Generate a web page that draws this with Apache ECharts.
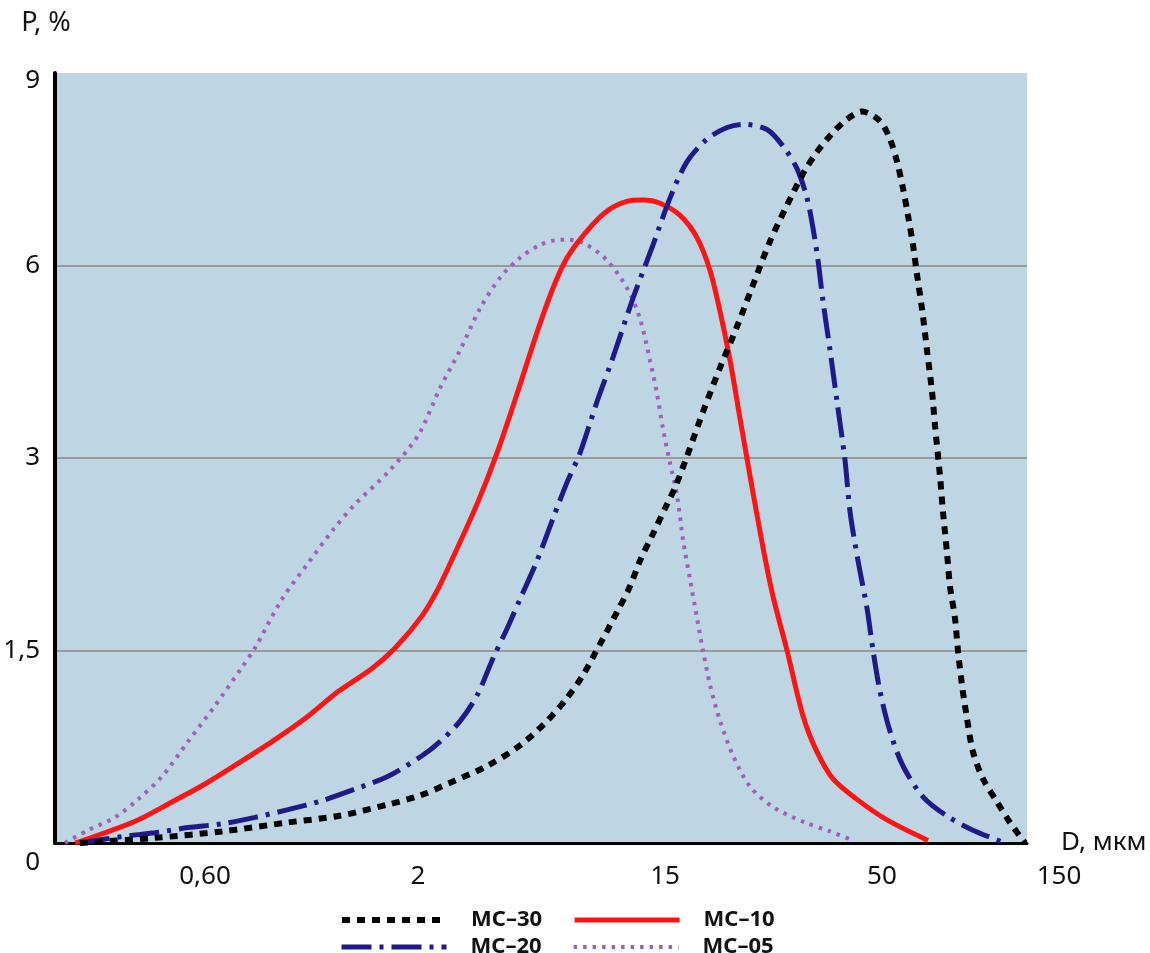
<!DOCTYPE html>
<html>
<head>
<meta charset="utf-8">
<script src="https://cdn.jsdelivr.net/npm/echarts@6/dist/echarts.min.js"></script>
<style>html,body{margin:0;padding:0;background:#fff}#c{width:1150px;height:953px}</style>
</head>
<body>
<div id="c"></div>
<script>
// Axis definitions (scale anchors)
const xTickValues = [0.6, 2, 15, 50, 150];
const xTickLabels = ['0,60', '2', '15', '50', '150'];
const xTickPositions = [15.43, 37.35, 62.76, 85.08, 100];
const yTickValues = [0, 1.5, 3, 6, 9];
const yTickLabels = ['0', '1,5', '3', '6', '9'];

const seriesNames = ['МС–30', 'МС–20', 'МС–10', 'МС–05'];

// МС–30 : D (мкм), P (%)
const d30 = [0.296,0.452,0.661,0.959,1.273,1.689,2.033,2.661,3.512,4.596,5.728,6.743,7.685,8.827,10.14,11.27,12.23,13.60,15.17,15.86,16.95,18.52,20.36,22.37,24.45,26.87,29.52,32.26,34.86,37.48,41.18,44.76,49.47,53.13,56.03,58.64,60.90,63.24,65.19,67.70,70.32,73.03,74.71,77.59,79.38,81.83,83.70,86.94,88.92,91.66,95.21,99.63,107.5,119.5,131.9,147.8];
const p30 = [0,0.04,0.09,0.16,0.21,0.30,0.37,0.48,0.60,0.76,0.95,1.13,1.31,1.55,1.80,2.00,2.20,2.41,2.64,2.77,3.03,3.72,4.41,5.05,5.70,6.38,6.94,7.43,7.77,8.02,8.28,8.40,8.25,7.97,7.62,7.20,6.78,6.32,5.86,5.33,4.68,4.04,3.51,2.86,2.58,2.26,2.00,1.75,1.50,1.23,0.97,0.71,0.50,0.32,0.16,0];

// МС–20
const d20 = [0.296,0.375,0.452,0.545,0.661,0.796,0.959,1.163,1.401,1.689,2.066,2.393,2.818,3.236,3.688,4.133,4.596,5.280,6.016,6.743,7.499,8.614,9.815,11.55,13.60,15.42,16.95,18.94,21.16,23.13,26.42,28.87,31.20,32.98,34.10,35.06,36.05,37.48,38.96,40.73,41.88,43.77,46.01,47.58,49.47,53.13,58.64,68.22,81.83,99.63,127.0];
const p20 = [0,0.05,0.08,0.12,0.15,0.20,0.26,0.33,0.42,0.52,0.68,0.79,0.95,1.15,1.44,1.67,1.90,2.20,2.53,2.81,3.08,3.88,4.57,5.49,6.32,7.05,7.62,7.97,8.15,8.20,8.12,7.86,7.51,7.05,6.58,6.08,5.44,4.68,3.88,2.98,2.58,2.20,1.83,1.50,1.18,0.87,0.60,0.36,0.21,0.10,0];

// МС–10
const d10 = [0.288,0.341,0.411,0.498,0.600,0.723,0.876,1.056,1.273,1.542,1.757,2.066,2.354,2.705,3.263,3.810,4.485,5.280,6.016,6.743,7.940,9.346,11.00,12.54,14.40,16.31,17.92,19.26,20.36,21.52,22.75,24.04,25.84,27.32,29.52,32.26,34.86,38.11,43.53,51.94,70.85];
const p10 = [0,0.08,0.18,0.32,0.46,0.62,0.79,0.97,1.18,1.36,1.52,1.77,1.98,2.26,2.66,3.08,4.00,4.96,5.65,6.12,6.54,6.85,7.00,7.02,6.97,6.78,6.43,5.92,5.28,4.52,3.61,2.86,2.30,1.92,1.50,0.99,0.71,0.50,0.34,0.18,0.02];

// МС–05
const d05 = [0.272,0.310,0.361,0.411,0.471,0.545,0.635,0.740,0.796,0.927,1.074,1.230,1.401,1.689,2.000,2.393,2.818,3.317,3.904,4.596,5.411,6.369,6.910,7.940,9.346,11.00,12.23,13.27,14.05,14.76,15.42,16.03,16.58,17.24,17.92,18.52,19.26,20.36,21.88,24.04,27.32,32.62,37.48,42.58];
const p05 = [0,0.10,0.20,0.34,0.52,0.79,1.07,1.37,1.52,1.90,2.18,2.43,2.64,2.89,3.35,4.09,4.68,5.33,5.81,6.12,6.32,6.40,6.40,6.32,6.08,5.65,5.17,4.52,4.00,3.45,2.96,2.71,2.36,2.05,1.75,1.50,1.23,0.95,0.68,0.44,0.28,0.16,0.09,0.02];

// piecewise-logarithmic x scale
const xLog = xTickValues.map(Math.log10);
function xPos(d) {
  const L = Math.log10(d);
  let i = 0;
  if (L >= xLog[xLog.length - 1]) i = xLog.length - 2;
  else if (L > xLog[0]) { while (L > xLog[i + 1]) i++; }
  return xTickPositions[i] + (L - xLog[i]) / (xLog[i + 1] - xLog[i]) * (xTickPositions[i + 1] - xTickPositions[i]);
}
// piecewise-linear y scale, equal spacing between ticks
function yPos(p) {
  let i = 0;
  while (i < yTickValues.length - 2 && p > yTickValues[i + 1]) i++;
  return i + (p - yTickValues[i]) / (yTickValues[i + 1] - yTickValues[i]);
}
function pts(d, p) { return d.map((v, i) => [xPos(v), yPos(p[i])]); }

const FONT = '"Noto Sans", "Open Sans", sans-serif';
const styles = {
  'МС–30': { color: '#000000', width: 6, type: [8, 7] },
  'МС–20': { color: '#1f1a8a', width: 5, type: [30, 8, 4, 8] },
  'МС–10': { color: '#ff1414', width: 5, type: 'solid' },
  'МС–05': { color: '#9c62b6', width: 4, type: [3.5, 6] }
};
const dataMap = { 'МС–30': [d30, p30], 'МС–20': [d20, p20], 'МС–10': [d10, p10], 'МС–05': [d05, p05] };
const drawOrder = ['МС–05', 'МС–10', 'МС–20', 'МС–30'];

const legendText = { color: '#111', fontFamily: FONT, fontWeight: 'bold', fontSize: 22, lineHeight: 24, padding: [0, 0, 0, 19] };
const legendCommon = {
  left: 334, itemWidth: 105, itemHeight: 14, itemGap: 30,
  textStyle: legendText, selectedMode: false,
  itemStyle: { opacity: 0 },
  lineStyle: { width: 'inherit', type: 'inherit', color: 'inherit' }
};

const chart = echarts.init(document.getElementById('c'));
chart.setOption({
  animation: false,
  backgroundColor: '#ffffff',
  grid: { left: 55, right: 123, top: 73, bottom: 110, show: true, backgroundColor: '#bed5e4', borderWidth: 0, containLabel: false, outerBoundsMode: 'none' },
  legend: [
    Object.assign({ data: ['МС–30', 'МС–10'], top: 903 }, legendCommon),
    Object.assign({ data: ['МС–20', 'МС–05'], top: 930 }, legendCommon)
  ],
  xAxis: {
    type: 'value', min: 0, max: 100,
    name: 'D, мкм', nameLocation: 'end', nameGap: 34, nameMoveOverlap: false,
    nameTextStyle: { color: '#111', fontFamily: FONT, fontSize: 26, padding: [0, 0, 14, 0], verticalAlign: 'middle' },
    axisLine: { show: true, onZero: false, lineStyle: { color: '#000', width: 3 } },
    axisTick: { show: false },
    splitLine: { show: false },
    axisLabel: {
      customValues: xTickPositions,
      margin: 21,
      color: '#111', fontFamily: FONT, fontSize: 26, lineHeight: 26,
      showMinLabel: true, showMaxLabel: true, hideOverlap: false,
      formatter: function (v) {
        let i = xTickPositions.findIndex(t => Math.abs(t - v) < 1e-6);
        if (i < 0) return '';
        if (i === xTickPositions.length - 1) return '{r|' + xTickLabels[i] + '}';
        return xTickLabels[i];
      },
      rich: { r: { color: '#111', fontFamily: FONT, fontSize: 26, lineHeight: 26, padding: [0, 0, 0, 64] } }
    }
  },
  yAxis: {
    type: 'value', min: 0, max: yTickValues.length - 1, interval: 1,
    name: 'P, %', nameLocation: 'end', nameGap: 36, nameMoveOverlap: false,
    nameTextStyle: { color: '#111', fontFamily: FONT, fontSize: 27, align: 'center', padding: [0, 18, 0, 0] },
    axisLine: { show: true, lineStyle: { color: '#000', width: 4 } },
    axisTick: { show: false },
    splitLine: { show: true, showMinLine: false, showMaxLine: false, lineStyle: { color: '#9a9a9a', width: 2 } },
    axisLabel: {
      margin: 15,
      color: '#111', fontFamily: FONT, fontSize: 26, lineHeight: 26,
      showMinLabel: true, showMaxLabel: true,
      formatter: function (v) {
        const i = Math.round(v);
        if (i === 0) return '{z|' + yTickLabels[0] + '}';
        if (i === yTickLabels.length - 1) return '{t|' + yTickLabels[i] + '}';
        return yTickLabels[i];
      },
      rich: {
        z: { color: '#111', fontFamily: FONT, fontSize: 26, lineHeight: 26, padding: [40, 0, 0, 0] },
        t: { color: '#111', fontFamily: FONT, fontSize: 26, lineHeight: 26, padding: [16, 0, 0, 0] }
      }
    }
  },
  series: drawOrder.map((n, k) => ({
    name: n, type: 'line', symbol: 'none', smooth: 0.3, z: 2 + k,
    data: pts(dataMap[n][0], dataMap[n][1]),
    lineStyle: { color: styles[n].color, width: styles[n].width, type: styles[n].type, cap: 'butt' },
    itemStyle: { color: styles[n].color },
    emphasis: { disabled: true }
  }))
});
</script>
</body>
</html>
